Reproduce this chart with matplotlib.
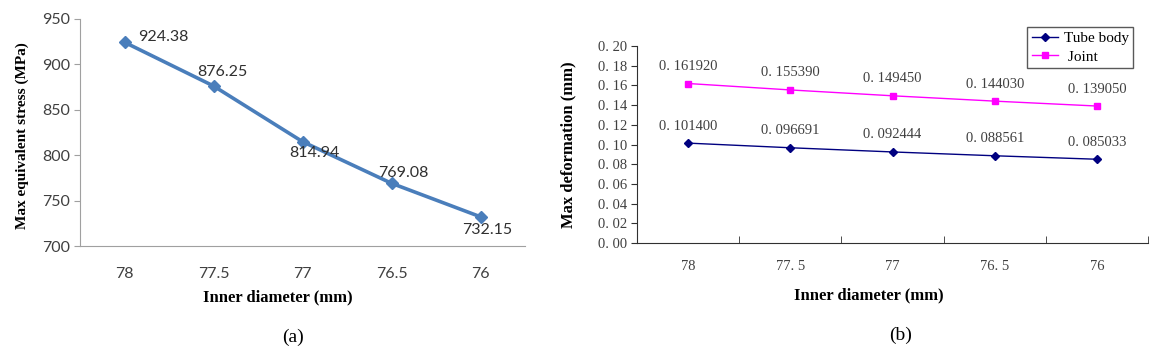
import matplotlib
matplotlib.use('Agg')
import matplotlib.pyplot as plt

# data
diameters = ['78', '77.5', '77', '76.5', '76']
diameters_b = ['78', '77. 5', '77', '76. 5', '76']
stress = [924.38, 876.25, 814.94, 769.08, 732.15]
tube_body = [0.101400, 0.096691, 0.092444, 0.088561, 0.085033]
joint = [0.161920, 0.155390, 0.149450, 0.144030, 0.139050]

W, H = 1164, 362
fig = plt.figure(figsize=(W / 100, H / 100), dpi=100)
serif = 'Liberation Serif'
sans = 'Lato'
px = 72 / 100  # points per pixel

# ---------- (a) ----------
ax1 = fig.add_axes([80 / W, 1 - 246 / H, (525 - 80) / W, (246 - 19) / H])
x = list(range(len(diameters)))
ax1.plot(x, stress, color='#4a7ebb', lw=2.6, marker='D', ms=6.5)
ax1.set_xlim(-0.5, len(x) - 0.5)
ax1.set_ylim(700, 950)
ax1.set_yticks(range(700, 951, 50))
ax1.set_xticks(x)
ax1.set_xticklabels(diameters)
for s in ['top', 'right']:
    ax1.spines[s].set_visible(False)
for s in ['left', 'bottom']:
    ax1.spines[s].set_color('#a0a0a0')
ax1.tick_params(axis='y', length=4, color='#a0a0a0', labelsize=11.5,
                labelcolor='#404040', pad=3)
ax1.tick_params(axis='x', length=0, labelsize=11.5, labelcolor='#404040', pad=15)
for lab in ax1.get_xticklabels() + ax1.get_yticklabels():
    lab.set_family(sans)

offs = [(14, 5, 'left'), (9, 14, 'center'), (12, -11, 'center'),
        (12, 10, 'center'), (7, -13, 'center')]
for xi, v, (dx, dy, ha) in zip(x, stress, offs):
    ax1.annotate(f'{v:.2f}', (xi, v), xytext=(dx * px, dy * px),
                 textcoords='offset points', ha=ha, va='center',
                 fontsize=11.5, color='#303030', family=sans)

fig.text(278 / W, 1 - 297 / H, 'Inner diameter (mm)', family=serif,
         weight='bold', fontsize=12, ha='center', va='center')
fig.text(22 / W, 1 - 136 / H, 'Max equivalent stress (MPa)', family=serif,
         weight='bold', fontsize=11, ha='center', va='center', rotation=90)
fig.text(293 / W, 1 - 337 / H, '(a)', family=serif, fontsize=14,
         ha='center', va='center')

# ---------- (b) ----------
ax2 = fig.add_axes([637 / W, 1 - 243 / H, (1148 - 637) / W, (243 - 46) / H])
ax2.plot(x, tube_body, color='#000080', lw=1, marker='D', ms=4,
         label='Tube body')
ax2.plot(x, joint, color='#ff00ff', lw=1, marker='s', ms=5,
         label=' Joint')
ax2.set_xlim(-0.5, len(x) - 0.5)
ax2.set_ylim(0, 0.20)
yt = [i * 0.02 for i in range(11)]
ax2.set_yticks(yt)
ax2.set_yticklabels([f'{v:.2f}'.replace('.', '. ') for v in yt])
ax2.set_xticks(x)
ax2.set_xticklabels(diameters_b)
ax2.set_xticks([i + 0.5 for i in range(len(x))], minor=True)
for s in ['top', 'right']:
    ax2.spines[s].set_visible(False)
for s in ['left', 'bottom']:
    ax2.spines[s].set_color('#303030')
ax2.tick_params(axis='y', length=4, color='#303030', labelsize=10.5,
                labelcolor='#404040', pad=3)
ax2.tick_params(axis='x', which='major', length=0, labelsize=10.5,
                labelcolor='#404040', pad=12)
ax2.tick_params(axis='x', which='minor', length=5, direction='in',
                color='#303030')
for lab in ax2.get_xticklabels() + ax2.get_yticklabels():
    lab.set_family(serif)

for series in (tube_body, joint):
    for xi, v in zip(x, series):
        ax2.annotate(f'{v:.6f}'.replace('.', '. '), (xi, v),
                     xytext=(0, 17 * px), textcoords='offset points',
                     ha='center', va='center', fontsize=10.5,
                     color='#404040', family=serif)

fig.text(869 / W, 1 - 295 / H, 'Inner diameter (mm)', family=serif,
         weight='bold', fontsize=12, ha='center', va='center')
fig.text(568 / W, 1 - 145 / H, 'Max deformation (mm)', family=serif,
         weight='bold', fontsize=12, ha='center', va='center', rotation=90)
leg = ax2.legend(loc='upper left', bbox_to_anchor=(1027 / W, 1 - 27 / H),
                 bbox_transform=fig.transFigure, borderaxespad=0,
                 fancybox=False, frameon=True, edgecolor='#303030',
                 prop={'family': serif, 'size': 11}, handlelength=1.7,
                 handletextpad=0.4, borderpad=0.3, labelspacing=0.3)
leg.get_frame().set_linewidth(1.0)
fig.text(901 / W, 1 - 335 / H, '(b)', family=serif, fontsize=14,
         ha='center', va='center')

fig.savefig('out.png', dpi=100)
